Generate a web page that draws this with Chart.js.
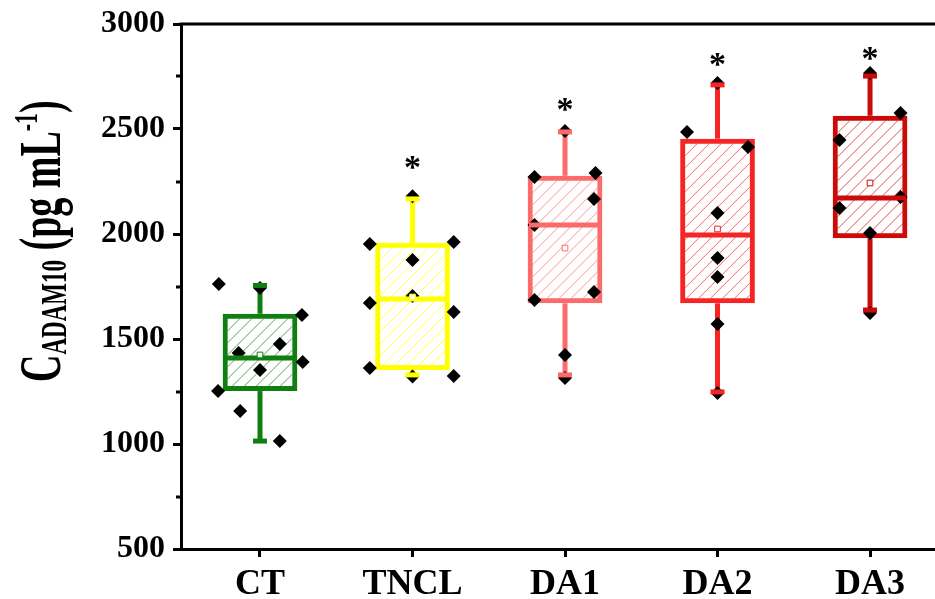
<!DOCTYPE html>
<html><head><meta charset="utf-8">
<script src="https://cdn.jsdelivr.net/npm/chart.js@4.4.1/dist/chart.umd.min.js"></script>
<style>html,body{margin:0;padding:0;background:#fff;overflow:hidden}</style>
</head><body>
<canvas id="c" width="935" height="599"></canvas>
<script>
// ---- data ----
const categories = ['CT', 'TNCL', 'DA1', 'DA2', 'DA3'];
const boxColors = ['#0f7f12', '#ffff00', '#fb6b6b', '#f52525', '#cb0a0a'];
const q1 = [1252, 1352, 1670, 1670, 1980];
const q3 = [1620, 1958, 2277, 2454, 2563];
const medians = [1410, 1690, 2043, 1995, 2171];
const whiskerLow = [1014, 1329, 1329, 1248, 1638];
const whiskerHigh = [1755, 2167, 2486, 2710, 2752];
const means = [1424, 1700, 1933, 2024, 2243];
const sigMarks = [null, 2350, 2625, 2840, 2865];
const yTickValues = [500, 1000, 1500, 2000, 2500, 3000];
const yMinorValues = [750, 1250, 1750, 2250, 2750];

// raw observations: group index, horizontal jitter (category units), value
const obsGroup  = [0,0,0,0,0,0,0,0,0,0, 1,1,1,1,1,1,1,1,1,1, 2,2,2,2,2,2,2,2,2, 3,3,3,3,3,3,3,3, 4,4,4,4,4,4,4];
const obsOffset = [-0.27,0,0.275,0.13,-0.14,0.28,0,-0.275,-0.13,0.13,
                   0,-0.28,0.27,0,0,-0.28,0.27,-0.28,0.27,0,
                   0,-0.2,0.2,0.19,-0.2,0.19,-0.2,0,0,
                   0,-0.2,0.2,0,0,0,0,0,
                   0,0.2,-0.2,0.2,-0.2,0,0];
const obsValue  = [1762,1743,1614,1476,1433,1390,1352,1252,1157,1014,
                   2180,1952,1962,1876,1705,1671,1629,1362,1324,1322,
                   2490,2271,2290,2167,2043,1724,1686,1424,1314,
                   2719,2486,2414,2100,1886,1795,1571,1243,
                   2767,2576,2448,2176,2124,2005,1624];

const serif = 'Liberation Serif';

// diagonal hatching inside the boxes (dataset 0)
const boxHatch = {
  id: 'boxHatch',
  afterDatasetDraw(chart, args) {
    if (args.index !== 0) return;
    const c = chart.ctx;
    args.meta.data.forEach((el, i) => {
      const p = el.getProps(['x', 'y', 'base', 'width'], true);
      const bw = 5;
      const l = p.x - p.width / 2 + bw, r = p.x + p.width / 2 - bw;
      const t = Math.min(p.y, p.base) + bw, b = Math.max(p.y, p.base) - bw;
      const h = b - t;
      c.save();
      c.beginPath(); c.rect(l, t, r - l, h); c.clip();
      c.strokeStyle = boxColors[i]; c.globalAlpha = 0.7; c.lineWidth = 1;
      c.beginPath();
      for (let k = l - h - 12; k < r + 12; k += 12) { c.moveTo(k, b); c.lineTo(k + h, t); }
      c.stroke();
      c.restore();
    });
  }
};

const frameAndTitle = {
  id: 'frameAndTitle',
  afterDraw(chart) {
    const c = chart.ctx, a = chart.chartArea, ys = chart.scales.y, xs = chart.scales.x;
    c.save();
    c.strokeStyle = '#000'; c.lineWidth = 3;
    c.beginPath(); c.moveTo(a.left - 1.5, a.top); c.lineTo(a.right, a.top); c.stroke();
    yMinorValues.forEach(v => {
      const p = Math.round(ys.getPixelForValue(v));
      c.beginPath(); c.moveTo(a.left - 5, p); c.lineTo(a.left, p); c.stroke();
    });
    c.fillStyle = '#000';
    c.font = 'bold 34px ' + serif;
    c.textAlign = 'center'; c.textBaseline = 'alphabetic';
    sigMarks.forEach((v, i) => {
      if (v == null) return;
      c.fillText('*', xs.getPixelForValue(i), ys.getPixelForValue(v) + 17);
    });
    c.restore();

    c.save();
    c.translate(60, 382);
    c.rotate(-Math.PI / 2);
    c.scale(1, 1.55);
    c.fillStyle = '#000'; c.textAlign = 'left'; c.textBaseline = 'alphabetic';
    const parts = [
      { t: 'C', f: 'bold 38px ' + serif, dy: 0 },
      { t: 'ADAM10', f: 'bold 23px ' + serif, dy: 4 },
      { t: ' (pg mL', f: 'bold 38px ' + serif, dy: 0 },
      { t: '-1', f: 'bold 22px ' + serif, dy: -15 },
      { t: ')', f: 'bold 38px ' + serif, dy: 0 }
    ];
    let x = 0;
    parts.forEach(p => { c.font = p.f; c.fillText(p.t, x, p.dy); x += c.measureText(p.t).width; });
    c.restore();
  }
};

const ctx = document.getElementById('c').getContext('2d');
new Chart(ctx, {
  type: 'bar',
  data: {
    datasets: [
      { type: 'bar', order: 6, grouped: false,
        data: categories.map((_, i) => ({ x: i, y: [q1[i], q3[i]] })),
        backgroundColor: 'rgba(255,255,255,0)', borderColor: boxColors,
        borderWidth: 5, borderSkipped: false,
        categoryPercentage: 1, barPercentage: 0.49 },
      { type: 'bar', order: 5, grouped: false,
        data: categories.map((_, i) => ({ x: i, y: [whiskerLow[i], q1[i]] })),
        backgroundColor: boxColors, borderWidth: 0, maxBarThickness: 5 },
      { type: 'bar', order: 5, grouped: false,
        data: categories.map((_, i) => ({ x: i, y: [q3[i], whiskerHigh[i]] })),
        backgroundColor: boxColors, borderWidth: 0, maxBarThickness: 5 },
      { type: 'scatter', order: 4,
        data: obsValue.map((v, k) => ({ x: obsGroup[k] + obsOffset[k], y: v })),
        pointStyle: 'rectRot', pointRadius: 7, backgroundColor: '#000', borderColor: '#000', borderWidth: 0 },
      { type: 'scatter', order: 3,
        data: medians.map((v, i) => ({ x: i, y: v })),
        pointStyle: 'line', pointRadius: 36, borderColor: boxColors, borderWidth: 5 },
      { type: 'scatter', order: 2,
        data: means.map((v, i) => ({ x: i, y: v })),
        pointStyle: 'rect', pointRadius: 4, backgroundColor: '#fff', borderColor: boxColors, borderWidth: 1 },
      { type: 'scatter', order: 1,
        data: whiskerLow.map((v, i) => ({ x: i, y: v })).concat(whiskerHigh.map((v, i) => ({ x: i, y: v }))),
        pointStyle: 'line', pointRadius: 7, borderColor: boxColors.concat(boxColors), borderWidth: 5 }
    ]
  },
  options: {
    responsive: false, animation: false, events: [], devicePixelRatio: 1,
    layout: { autoPadding: false, padding: { top: 24, left: 0, right: 0, bottom: 0 } },
    plugins: { legend: { display: false }, tooltip: { enabled: false } },
    scales: {
      x: {
        type: 'linear', min: -0.518, max: 4.426, offset: false,
        afterBuildTicks: s => { s.ticks = categories.map((_, i) => ({ value: i })); },
        afterFit: s => { s.height = 50; s.paddingLeft = 0; s.paddingRight = 0; },
        ticks: { callback: v => categories[v], color: '#000', padding: 6, autoSkip: false, maxRotation: 0,
                 font: { family: serif, weight: 'bold', size: 36 } },
        grid: { offset: false, drawOnChartArea: false, tickLength: 8, tickWidth: 3, tickColor: '#000' },
        border: { width: 3, color: '#000' }
      },
      y: {
        min: 500, max: 3000,
        afterBuildTicks: s => { s.ticks = yTickValues.map(v => ({ value: v })); },
        afterFit: s => { s.width = 181; s.paddingTop = 0; s.paddingBottom = 0; },
        ticks: { callback: v => String(v), color: '#000', padding: 8, font: { family: serif, weight: 'bold', size: 32 } },
        grid: { drawOnChartArea: false, tickLength: 8, tickWidth: 3, tickColor: '#000' },
        border: { width: 3, color: '#000' }
      }
    }
  },
  plugins: [boxHatch, frameAndTitle]
});
</script>
</body></html>
